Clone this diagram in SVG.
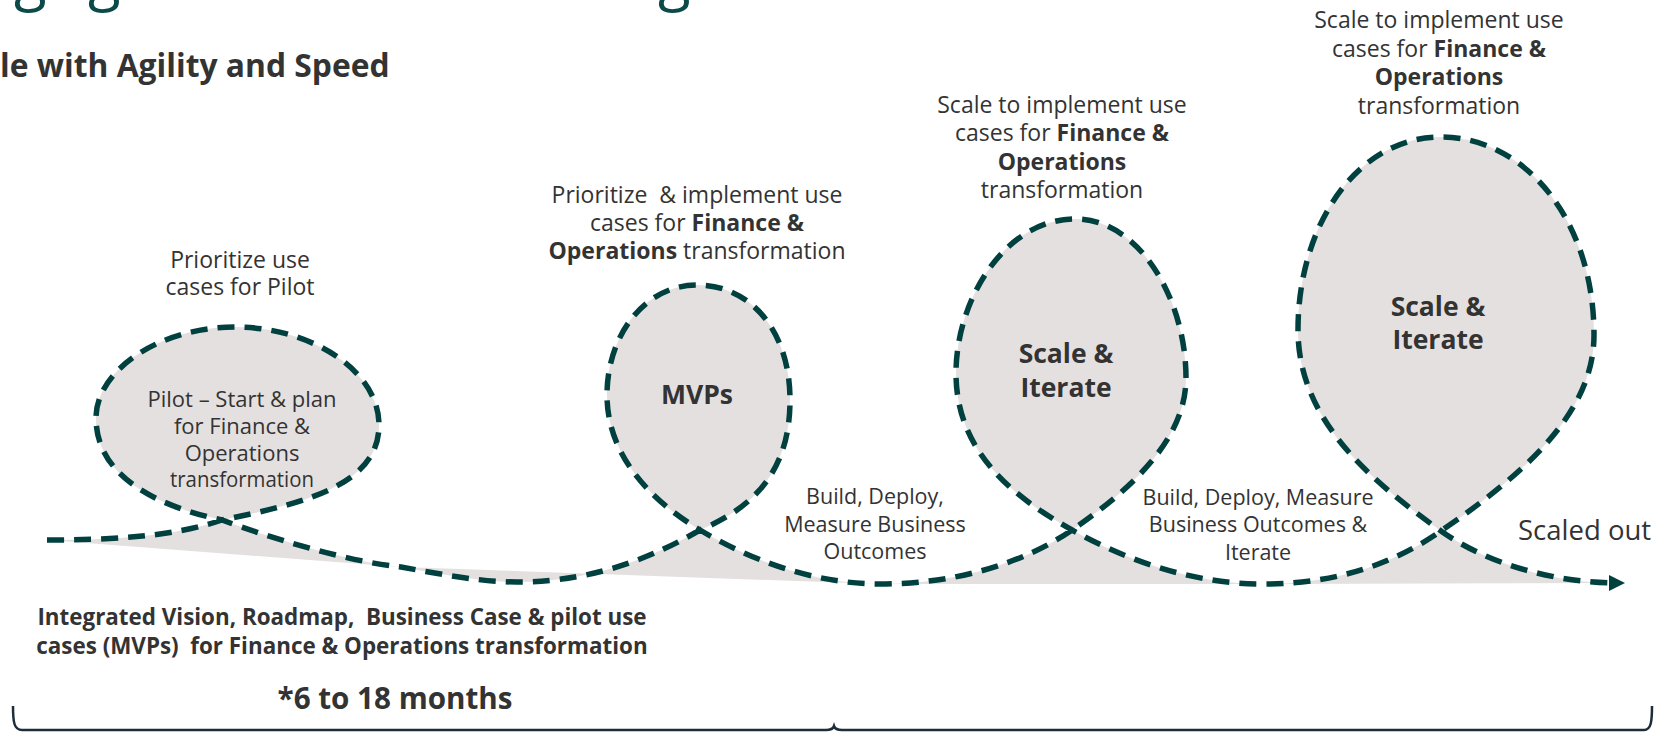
<svg xmlns="http://www.w3.org/2000/svg" width="1655" height="734" viewBox="0 0 1655 734">
<style>
.t{font-family:"Open Sans","Noto Sans","Liberation Sans",sans-serif;fill:#333333}
.lab{font-size:23px;text-anchor:middle}
.inn{font-size:22px;text-anchor:middle}
.sm{font-size:21.5px;text-anchor:middle}
.big{font-size:26.5px;font-weight:700;text-anchor:middle}
.b{font-weight:700}
.fill{fill:#e5e0e0;stroke:none}
.dash{fill:none;stroke:#00403f;stroke-width:5.5;stroke-dasharray:17 10}
.ttl{font-family:"Open Sans","Noto Sans",sans-serif;font-size:60px;fill:#0b4a49}
</style>
<defs>
<marker id="arr" viewBox="0 0 10 10" refX="5" refY="5" markerWidth="16" markerHeight="16" markerUnits="userSpaceOnUse" orient="auto">
<path d="M0,0 L10,5 L0,10 z" fill="#00403f"/>
</marker>
</defs>
<rect width="1655" height="734" fill="#ffffff"/>

<g id="title">
<text class="ttl" x="14" y="-1">g</text>
<text class="ttl" x="88" y="-1">g</text>
<text class="ttl" x="658" y="-1">g</text>
</g>

<g id="subtitle">
<text class="t b" x="0" y="77" font-size="31.8">le with Agility and Speed</text>
</g>

<g id="node-pilot">
<path class="fill" d="M47,540 C110,540 172,537 222,520 C305,503 379,485 379,425 C379,370 310,327 235,327 C160,327 96,370 96,418 C96,480 165,508 222,520 C270,538 350,562 401,567 Z"/>
<text class="t lab" x="240" y="268">Prioritize use</text>
<text class="t lab" x="240" y="295">cases for Pilot</text>
<text class="t inn" x="242" y="407">Pilot – Start &amp; plan</text>
<text class="t inn" x="242" y="434">for Finance &amp;</text>
<text class="t inn" x="242" y="461">Operations</text>
<text class="t inn" x="242" y="487" textLength="144" lengthAdjust="spacingAndGlyphs">transformation</text>
</g>

<g id="node-mvps">
<path class="fill" d="M401,567 C440,574 480,582 517,582 C600,582 662,552 700,530 C760,505 790,465 790,400 C790,330 750,285 697,285 C645,285 607,335 607,395 C607,455 650,500 700,530 C745,557 810,584 880,584 Z"/>
<text class="t lab" x="697" y="203" xml:space="preserve">Prioritize  &amp; implement use</text>
<text class="t lab" x="697" y="231">cases for <tspan class="b">Finance &amp;</tspan></text>
<text class="t lab" x="697" y="259"><tspan class="b">Operations</tspan> transformation</text>
<text class="t big" x="697" y="404">MVPs</text>
</g>

<g id="node-scale1">
<path class="fill" d="M880,584 C960,584 1027,561 1072,530 C1130,490 1186,440 1186,378 C1186,300 1140,219 1075,219 C1005,219 956,300 956,373 C956,450 1010,495 1072,530 C1122,558 1190,584 1262,584 Z"/>
<text class="t lab" x="1062" y="113">Scale to implement use</text>
<text class="t lab" x="1062" y="141">cases for <tspan class="b">Finance &amp;</tspan></text>
<text class="t lab b" x="1062" y="170">Operations</text>
<text class="t lab" x="1062" y="198">transformation</text>
<text class="t big" x="1066" y="363">Scale &amp;</text>
<text class="t big" x="1066" y="397">Iterate</text>
</g>

<g id="node-scale2">
<path class="fill" d="M1262,584 C1340,584 1396,562 1441,531 C1530,470 1594,410 1594,335 C1594,220 1525,137 1441,137 C1357,137 1298,225 1298,330 C1298,420 1370,480 1441,531 C1490,566 1560,583 1615,583 Z"/>
<text class="t lab" x="1439" y="28">Scale to implement use</text>
<text class="t lab" x="1439" y="57">cases for <tspan class="b">Finance &amp;</tspan></text>
<text class="t lab b" x="1439" y="85">Operations</text>
<text class="t lab" x="1439" y="114">transformation</text>
<text class="t big" x="1438" y="316">Scale &amp;</text>
<text class="t big" x="1438" y="349">Iterate</text>
</g>

<g id="connectors">
<path class="dash" marker-end="url(#arr)" d="M47,540 C110,540 172,537 222,520 C305,503 379,485 379,425 C379,370 310,327 235,327 C160,327 96,370 96,418 C96,480 165,508 222,520 C270,538 350,562 401,567 C440,574 480,582 517,582 C600,582 662,552 700,530 C760,505 790,465 790,400 C790,330 750,285 697,285 C645,285 607,335 607,395 C607,455 650,500 700,530 C745,557 810,584 880,584 C960,584 1027,561 1072,530 C1130,490 1186,440 1186,378 C1186,300 1140,219 1075,219 C1005,219 956,300 956,373 C956,450 1010,495 1072,530 C1122,558 1190,584 1262,584 C1340,584 1396,562 1441,531 C1530,470 1594,410 1594,335 C1594,220 1525,137 1441,137 C1357,137 1298,225 1298,330 C1298,420 1370,480 1441,531 C1490,566 1560,583 1617,583"/>
</g>

<g id="edge-labels">
<text class="t sm" x="875" y="504">Build, Deploy,</text>
<text class="t sm" x="875" y="532">Measure Business</text>
<text class="t sm" x="875" y="559">Outcomes</text>
<text class="t sm" x="1258" y="505">Build, Deploy, Measure</text>
<text class="t sm" x="1258" y="532">Business Outcomes &amp;</text>
<text class="t sm" x="1258" y="560">Iterate</text>
<text class="t" x="1518" y="540" font-size="27.5">Scaled out</text>
</g>

<g id="bottom-text">
<text class="t b" x="342" y="625" font-size="22.4" text-anchor="middle" xml:space="preserve">Integrated Vision, Roadmap,  Business Case &amp; pilot use</text>
<text class="t b" x="342" y="654" font-size="22.4" text-anchor="middle" xml:space="preserve">cases (MVPs)  for Finance &amp; Operations transformation</text>
<text class="t b" x="395" y="709" font-size="29.6" text-anchor="middle">*6 to 18 months</text>
</g>

<g id="brace">
<path d="M13,706 C13,722 14,730 22,730 L826,730 C831,730 833,729 834,726 C835,729 837,730 842,730 L1644,730 C1651,730 1652,722 1652,706" fill="none" stroke="#1e2d3a" stroke-width="2.5"/>
</g>
</svg>
